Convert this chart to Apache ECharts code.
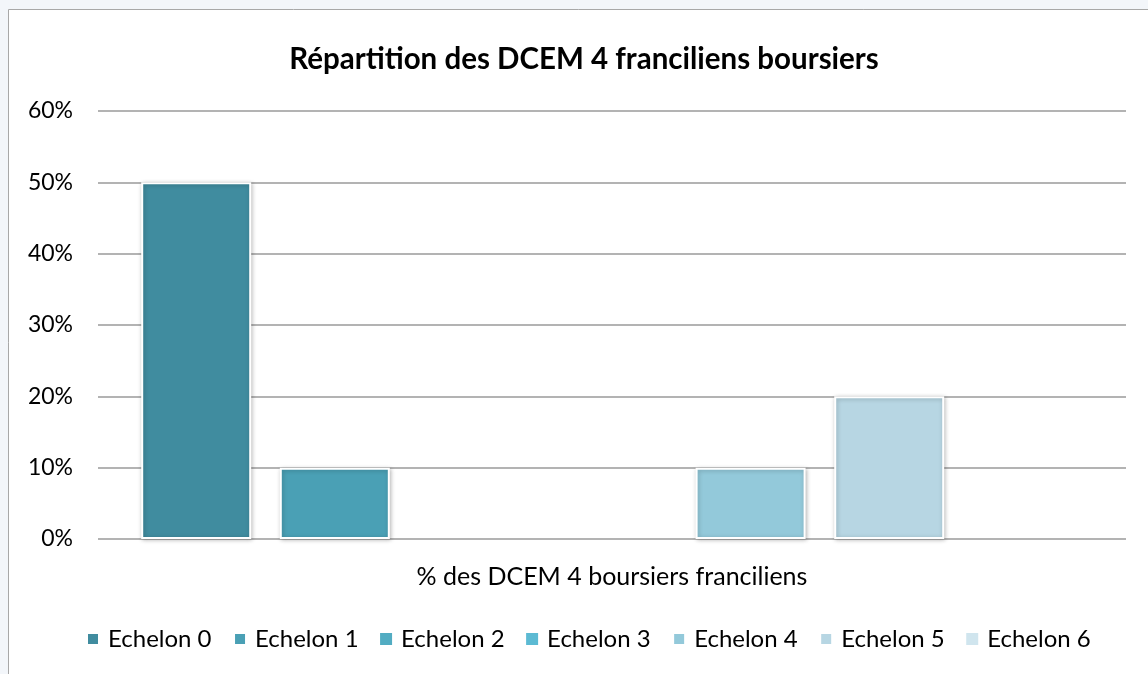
<!DOCTYPE html>
<html>
<head>
<meta charset="utf-8">
<script src="https://cdn.jsdelivr.net/npm/echarts@6/dist/echarts.min.js"></script>
<style>
html, body { margin: 0; padding: 0; background: #f3f6fa; }
#container { width: 1148px; height: 674px; }
</style>
</head>
<body>
<div id="container"></div>
<script>
var categories = ['% des DCEM 4 boursiers franciliens'];
var seriesNames = ['Echelon 0', 'Echelon 1', 'Echelon 2', 'Echelon 3', 'Echelon 4', 'Echelon 5', 'Echelon 6'];
var seriesValues = [50, 10, 0, 0, 10, 20, 0];
var seriesColors = ['#408c9f', '#4aa0b5', '#52acc2', '#5cbad3', '#93c9da', '#b7d6e3', '#d0e5ee'];

var dom = document.getElementById('container');
var myChart = echarts.init(dom);
var fontFam = 'Lato, "Open Sans", sans-serif';

var series = seriesNames.map(function (name, i) {
    var v = seriesValues[i];
    return {
        name: name,
        type: 'bar',
        data: [v],
        barWidth: 110,
        barGap: '26%',
        itemStyle: {
            color: seriesColors[i],
            borderColor: '#ffffff',
            borderWidth: v ? 2 : 0,
            shadowColor: v ? 'rgba(0,0,0,0.25)' : 'transparent',
            shadowBlur: v ? 4 : 0,
            shadowOffsetX: 1,
            shadowOffsetY: 1
        }
    };
});

var option = {
    backgroundColor: '#f3f6fa',
    animation: false,
    graphic: [{
        type: 'rect',
        z: -10,
        shape: { x: 8.5, y: 9.5, width: 1160, height: 700 },
        style: { fill: '#ffffff', stroke: '#a8a8a8', lineWidth: 1 }
    }],
    title: {
        text: 'Répartition des DCEM 4 franciliens boursiers',
        left: 579,
        textAlign: 'center',
        top: 39,
        textStyle: { fontFamily: fontFam, fontSize: 29.5, fontWeight: 'bold', color: '#000' }
    },
    legend: {
        data: seriesNames,
        left: 81,
        top: 622,
        icon: 'rect',
        itemWidth: 12,
        itemHeight: 12,
        itemGap: 21.5,
        textStyle: { fontFamily: fontFam, fontSize: 24, color: '#000', padding: [0, 0, 0, 4] }
    },
    grid: { left: 98, right: 22, top: 111, bottom: 135 },
    xAxis: {
        type: 'category',
        data: categories,
        axisLine: { show: false },
        axisTick: { show: false },
        axisLabel: { fontFamily: fontFam, fontSize: 25, color: '#000', margin: 25 }
    },
    yAxis: {
        type: 'value',
        min: 0,
        max: 60,
        interval: 10,
        axisLine: { show: false },
        axisTick: { show: false },
        axisLabel: { formatter: '{value}%', fontFamily: fontFam, fontSize: 23, color: '#000', margin: 25 },
        splitLine: { lineStyle: { color: '#9a9a9a', width: 1.5 } }
    },
    series: series
};

myChart.setOption(option, true);
</script>
</body>
</html>
